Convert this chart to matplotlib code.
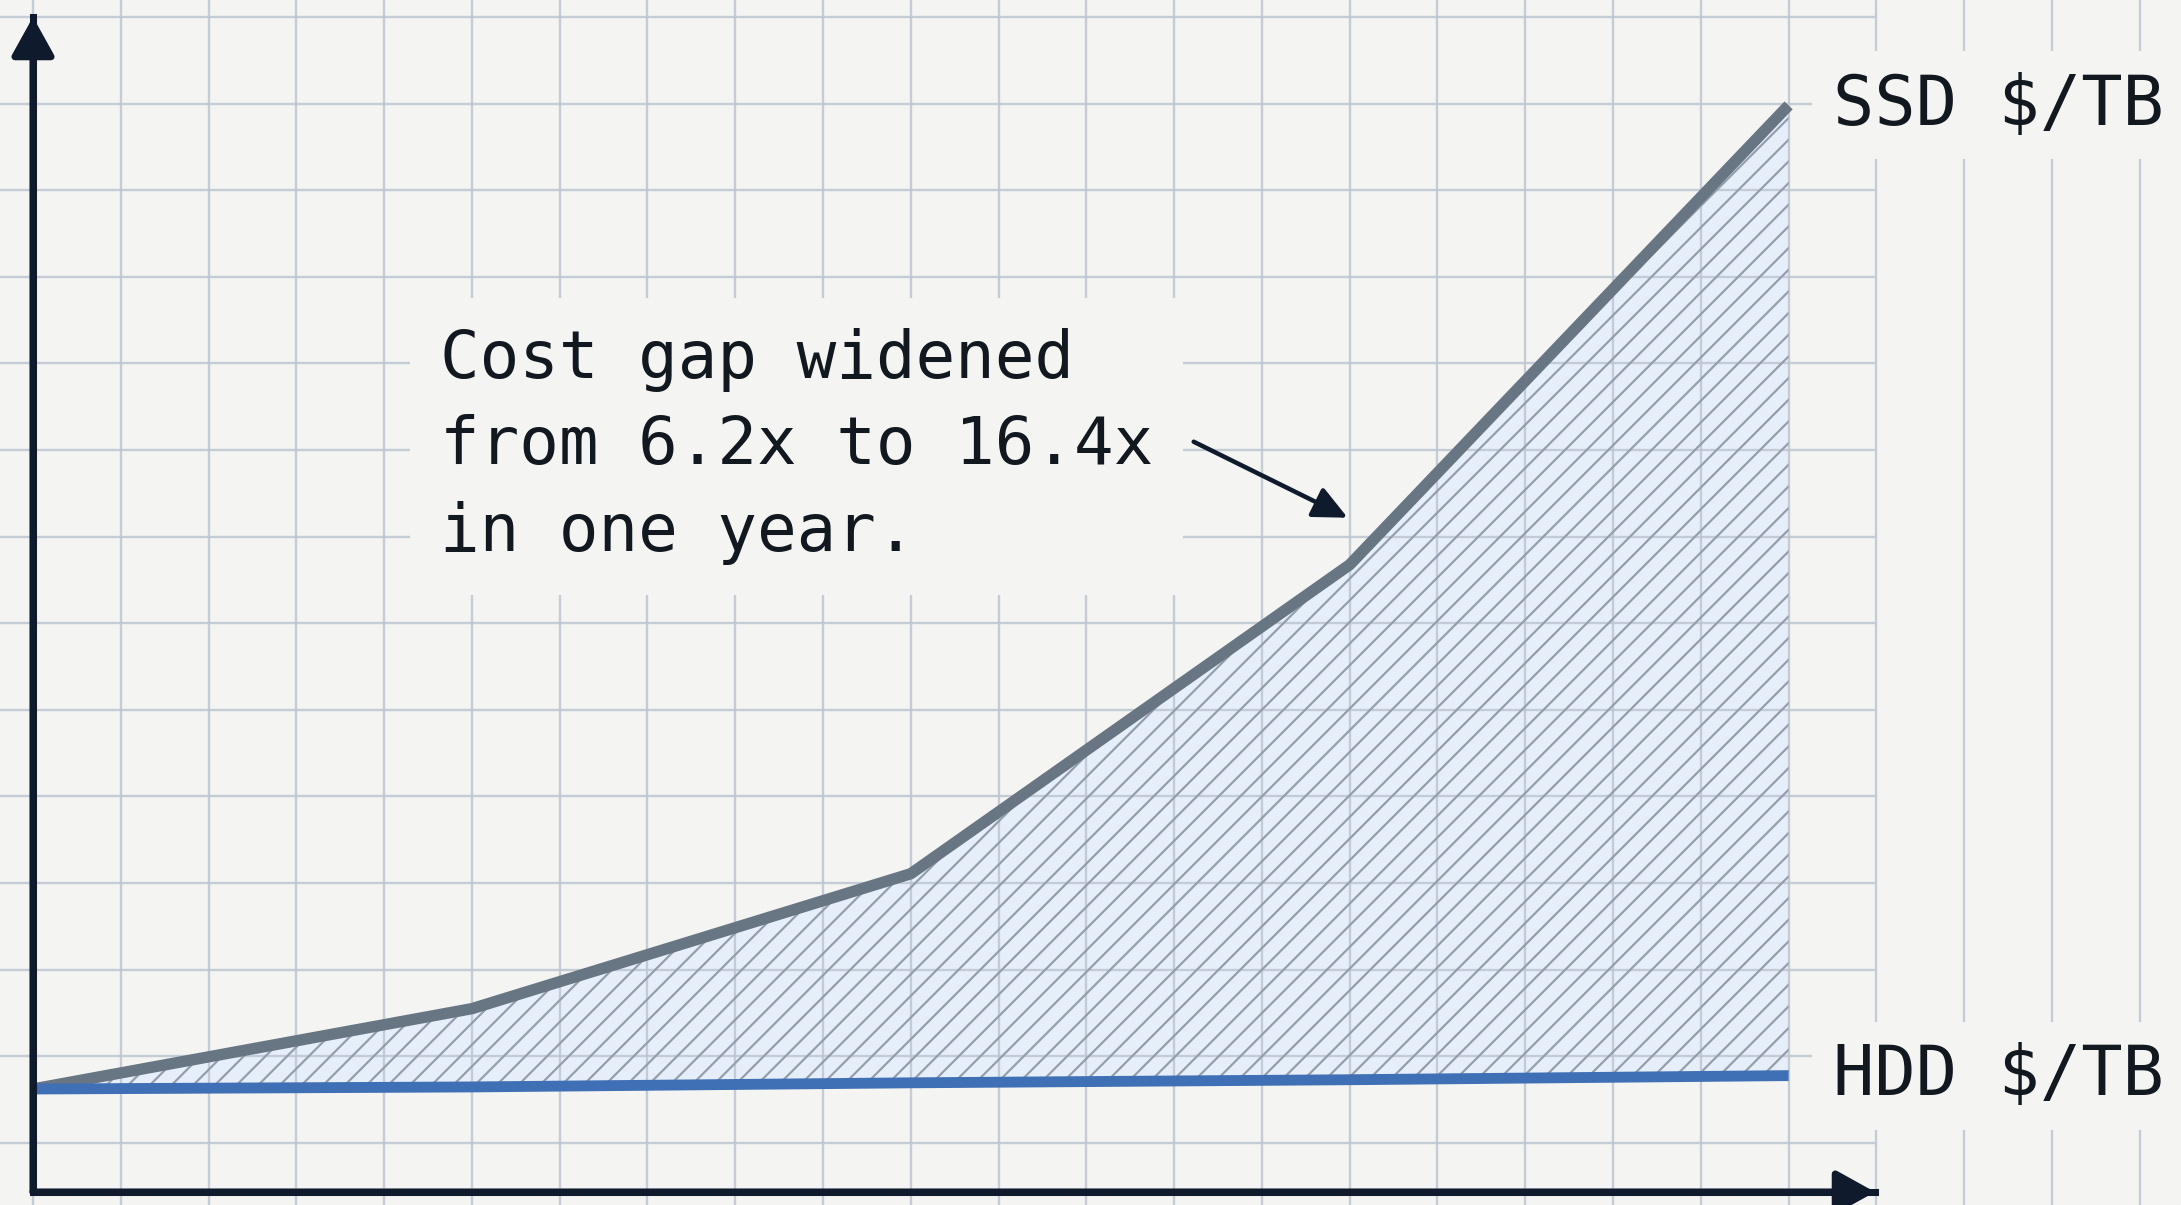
import matplotlib
matplotlib.use("Agg")
import matplotlib.pyplot as plt
import numpy as np
from matplotlib.transforms import offset_copy

# data: $/TB as an index, first period = 100
periods = ["P1", "P2", "P3", "P4", "P5"]
ssd_cost = [100, 178, 309, 609, 1055]
hdd_cost = [100, 102, 106, 109, 113]
ssd_label = "SSD $/TB"
hdd_label = "HDD $/TB"
note = "Cost gap widened\nfrom 6.2x to 16.4x\nin one year."

# look
W, H, DPI = 2181, 1205, 130
BG = "#f4f4f2"
GRID = "#bcc5d1"
INK = "#0f1b2d"
SSD_C = "#687684"
HDD_C = "#3f6fb4"
FILL_C = "#e6eef9"
HATCH_C = "#939dab"
MONO = "DejaVu Sans Mono"
plt.rcParams["hatch.linewidth"] = 1.2

# frame layout in pixels
X0, X_STEP = 33, 438.9    # px of first period, px per period
Y0, Y_SCALE = 1192, 1.03  # px of baseline, px per index point


def dx(px):
    return (px - X0) / X_STEP


def dy(py):
    return (Y0 - py) / Y_SCALE


fig = plt.figure(figsize=(W / DPI, H / DPI), dpi=DPI, facecolor=BG)
ax = fig.add_axes([0, 0, 1, 1])
ax.set_xlim(dx(0), dx(W))
ax.set_ylim(dy(H), dy(0))
ax.axis("off")

x = np.arange(len(periods))

# filled gap under the grid, hatch on top of it
ax.fill_between(x, hdd_cost, ssd_cost, facecolor=FILL_C, lw=0, zorder=0)

# graph paper
for gx in np.arange(25) * 0.2:
    ax.axvline(gx, color=GRID, lw=1.3, alpha=0.85, zorder=1)
ax.hlines(dy(17 + 86.6 * np.arange(14)), dx(0), dx(1875),
          color=GRID, lw=1.3, alpha=0.85, zorder=1)

ax.fill_between(x, hdd_cost, ssd_cost, facecolor="none", edgecolor=HATCH_C,
                hatch="//", lw=0, zorder=1.5)

# series
ax.plot(x, ssd_cost, color=SSD_C, lw=6.3, solid_capstyle="butt",
        solid_joinstyle="round", zorder=3)
ax.plot(x, hdd_cost, color=HDD_C, lw=6, solid_capstyle="butt", zorder=3)

# axes with arrow heads
ax.plot([0, 0, dx(1875)], [dy(17), 0, 0], color=INK, lw=3.9,
        solid_joinstyle="miter", zorder=4)
head = "-|>,head_length=0.9,head_width=0.5"
for tip in [(0, dy(17)), (dx(1875), 0)]:
    ax.annotate("", xy=tip, xytext=(0, 0),
                arrowprops=dict(arrowstyle=head, color=INK, lw=3.9,
                                mutation_scale=20, shrinkA=0, shrinkB=0),
                zorder=4)

# end labels
box = dict(boxstyle="square,pad=0.3", fc=BG, ec="none")
for lab, vals in [(ssd_label, ssd_cost), (hdd_label, hdd_cost)]:
    ax.annotate(lab, xy=(x[-1], vals[-1]), xytext=(44, 0),
                textcoords="offset pixels", ha="left", va="center",
                fontsize=38, family=MONO, color="#111820", bbox=box, zorder=5)

# callout
ax.text(dx(440), dy(328), note, ha="left", va="top", fontsize=36.5,
        family=MONO, color="#111820", linespacing=1.45,
        bbox=dict(boxstyle="square,pad=0.45", fc=BG, ec="none"), zorder=5)
ax.annotate("", xy=(x[3], ssd_cost[3]),
            xycoords=offset_copy(ax.transData, fig=fig, x=-2, y=47, units="dots"),
            xytext=(-154, 76), textcoords="offset pixels",
            arrowprops=dict(arrowstyle="-|>,head_length=1.6,head_width=0.75",
                            color=INK, lw=2.5, mutation_scale=10,
                            shrinkA=0, shrinkB=0),
            zorder=5)

fig.savefig("out.png", dpi=DPI, facecolor=BG)
